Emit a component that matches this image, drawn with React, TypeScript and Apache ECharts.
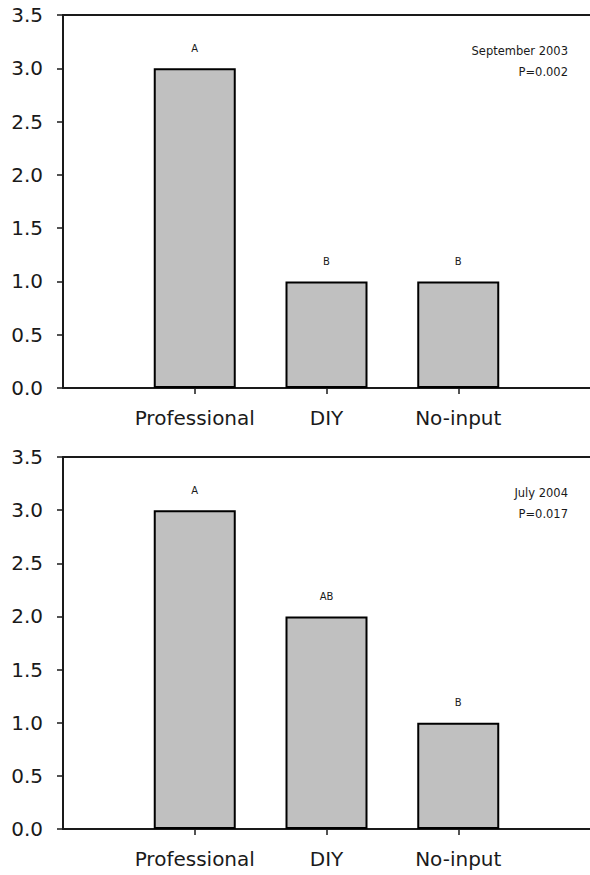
import React, { useEffect, useRef } from "react";
import * as echarts from "echarts";

const categories = ["Professional", "DIY", "No-input"];
const values2003 = [3, 1, 1];
const letters2003 = ["A", "B", "B"];
const values2004 = [3, 2, 1];
const letters2004 = ["A", "AB", "B"];
const notes2003 = ["September 2003", "P=0.002"];
const notes2004 = ["July 2004", "P=0.017"];
const yMin = 0;
const yMax = 3.5;
const yStep = 0.5;

const FONT = "DejaVu Sans";
const INK = "#1a1a1a";

export default function App() {
  const ref = useRef<HTMLDivElement>(null);

  useEffect(() => {
    const chart = echarts.init(ref.current!, null, { renderer: "svg" });
    const padded = [" ", ...categories, "  "];
    const grids = [
      { left: 63, right: 0, top: 15, height: 373 },
      { left: 63, right: 0, top: 457, height: 372 },
    ];
    const panels = [
      { values: values2003, letters: letters2003, notes: notes2003 },
      { values: values2004, letters: letters2004, notes: notes2004 },
    ];

    const xAxis: any[] = [];
    const yAxis: any[] = [];
    const series: any[] = [];
    const graphic: any[] = [];

    panels.forEach((p, i) => {
      xAxis.push({
        type: "category",
        gridIndex: i,
        position: "bottom",
        data: padded,
        boundaryGap: false,
        axisLine: { show: true, lineStyle: { color: INK, width: 2 } },
        axisTick: {
          show: true,
          inside: false,
          length: 6,
          interval: (idx: number) => idx >= 1 && idx <= categories.length,
          lineStyle: { color: INK, width: 1.5 },
        },
        axisLabel: {
          show: true,
          interval: (idx: number) => idx >= 1 && idx <= categories.length,
          fontFamily: FONT,
          fontSize: 20,
          color: INK,
          margin: 20,
        },
        splitLine: { show: false },
      });
      xAxis.push({
        type: "category",
        gridIndex: i,
        position: "top",
        data: padded,
        boundaryGap: false,
        axisLine: { show: true, lineStyle: { color: INK, width: 2 } },
        axisTick: { show: false },
        axisLabel: { show: false },
        splitLine: { show: false },
      });
      yAxis.push({
        type: "value",
        gridIndex: i,
        min: yMin,
        max: yMax,
        interval: yStep,
        axisLine: { show: true, lineStyle: { color: INK, width: 2 } },
        axisTick: { show: true, inside: false, length: 6, lineStyle: { color: INK, width: 1.5 } },
        axisLabel: {
          fontFamily: FONT,
          fontSize: 20,
          color: INK,
          margin: 20,
          formatter: (v: number) => v.toFixed(1),
        },
        splitLine: { show: false },
      });
      series.push({
        type: "bar",
        xAxisIndex: i * 2,
        yAxisIndex: i,
        data: ["-", ...p.values, "-"],
        barWidth: 82,
        itemStyle: { color: "#c0c0c0", borderColor: "#000", borderWidth: 2 },
        label: {
          show: true,
          position: "top",
          distance: 15,
          fontFamily: FONT,
          fontSize: 10,
          color: INK,
          formatter: (prm: any) => p.letters[prm.dataIndex - 1] ?? "",
        },
      });
      const top = grids[i].top;
      p.notes.forEach((t, k) => {
        graphic.push({
          type: "text",
          x: 568,
          y: top + 36 + k * 21,
          style: {
            text: t,
            align: "right",
            verticalAlign: "middle",
            fontFamily: FONT,
            fontSize: 11.5,
            fill: INK,
          },
        });
      });
    });

    chart.setOption({
      animation: false,
      backgroundColor: "#fff",
      grid: grids,
      xAxis,
      yAxis,
      series,
      graphic,
    });
    return () => chart.dispose();
  }, []);

  return (
    <div
      ref={ref}
      style={{ position: "absolute", left: 0, top: 0, width: 590, height: 875, background: "#fff" }}
    />
  );
}
